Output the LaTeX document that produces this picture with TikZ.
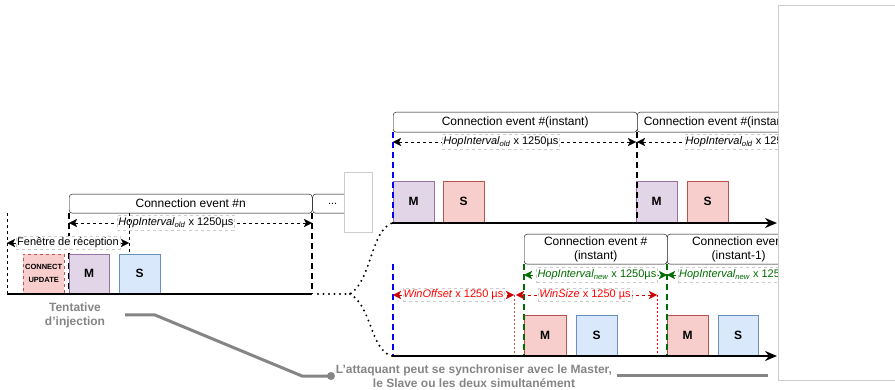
\documentclass[tikz,border=0pt]{standalone}
\usepackage{fontspec}
\setmainfont{Liberation Sans}
\usetikzlibrary{arrows.meta, positioning}
\definecolor{mauvef}{HTML}{E1D5E7}
\definecolor{mauved}{HTML}{9673A6}
\definecolor{rougef}{HTML}{F8CECC}
\definecolor{rouged}{HTML}{B85450}
\definecolor{bleuf}{HTML}{DAE8FC}
\definecolor{bleud}{HTML}{6C8EBF}
\definecolor{vert}{HTML}{006B00}
\definecolor{rougev}{HTML}{FF0000}
\definecolor{rougep}{HTML}{CC0000}
\definecolor{gris}{HTML}{858585}
\newcommand{\hopi}[1]{\textit{HopInterval\textsubscript{#1}}}
\newcommand{\grand}{\fontsize{12}{14}\selectfont}
\newcommand{\moyen}{\fontsize{11}{13}\selectfont}

\begin{document}
\begin{tikzpicture}[
    x=1pt, y=-1pt,
    evt/.style = {rectangle, draw, rounded corners=3pt, anchor=north west, inner sep=0pt, minimum height=20pt, font=\grand, align=center},
    msg/.style = {rectangle, anchor=south west, inner sep=0pt, minimum width=41pt, minimum height=41pt, font=\grand\bfseries},
    etiq/.style = {fill=white, draw=black!20, inner xsep=1pt, inner ysep=2.5pt, font=\moyen},
    duree/.style = {dash pattern=on 3pt off 3pt, {Stealth[length=8pt,width=8pt,inset=2pt]}-{Stealth[length=8pt,width=8pt,inset=2pt]}},
    borne/.style = {line width=2pt, dash pattern=on 6pt off 4pt},
    fin/.style = {dash pattern=on 3pt off 3pt},
    axe/.style = {line width=2pt, -{Stealth[length=12pt,width=10pt]}},
    pointil/.style = {line width=2.2pt, dash pattern=on 0pt off 5.5pt, line cap=round},
    note/.style = {text=gris, font=\grand\bfseries, align=center, inner sep=0pt},
    trait/.style = {draw=gris, line width=3pt},
    cache/.style = {fill=white, draw=black!20}
    ]

  \useasboundingbox (0,0) rectangle (895,390);

  % ligne du haut gauche : connection event #n
  \coordinate (d1) at (7,294);
  \coordinate (f1) at (312,294);
  \coordinate (emb) at (350,294);
  \node[evt, minimum width=243pt, minimum height=19pt] (evn) at (69,194) {Connection event \#n};
  \node[evt, minimum width=40pt, minimum height=19pt, font=\moyen] (suite) [right=0pt of evn] {...};

  \draw[fin] (d1 |- evn.south) -- (d1);
  \draw[borne] (evn.south west) -- (evn.south west |- d1);
  \draw[borne] (evn.south east) -- (evn.south east |- d1);

  \coordinate (h1a) at (69,223);
  \coordinate (h1b) at (312,223);
  \draw[duree] (h1a) -- node[etiq, pos=0.44] {\hopi{old} x 1250µs} (h1b);

  \coordinate (fa) at (7,243);
  \coordinate (fb) at (129,243);
  \node[msg, fill=rougef, draw=rouged, dashed, minimum width=41pt, minimum height=40pt, font=\fontsize{7.5}{13}\selectfont\bfseries, align=center] (cu) at (23,294) {CONNECT\\UPDATE};
  \node[msg, fill=mauvef, draw=mauved, minimum width=40pt, minimum height=40pt] (m1) at (69,294) {M};
  \node[msg, fill=bleuf, draw=bleud, minimum width=41pt, minimum height=40pt] (s1) at (119,294) {S};
  \draw[fin] (fb |- evn.south) -- (fb |- m1.north);
  \draw[duree] (fa) -- node[etiq, inner ysep=1.5pt] {Fenêtre de réception} (fb);
  \draw[line width=2pt] (d1) -- (f1);

  % ligne du haut droite : ancien HopInterval
  \coordinate (d2) at (392,223);
  \coordinate (f2) at (777,223);
  \node[evt, minimum width=244pt] (eva) at (393,112) {Connection event \#(instant)};
  \node[evt, minimum width=160pt] (evb) at (637,112) {Connection event \#(instant)};

  \node[msg, fill=mauvef, draw=mauved, minimum height=42pt] (m2a) at (393,223) {M};
  \node[msg, fill=rougef, draw=rouged, minimum height=42pt] (s2a) at (443,223) {S};
  \node[msg, fill=mauvef, draw=mauved, minimum height=42pt] (m2b) at (636,223) {M};
  \node[msg, fill=rougef, draw=rouged, minimum height=42pt] (s2b) at (687,223) {S};

  \draw[borne, blue] (eva.south west) -- (eva.south west |- d2);
  \draw[borne] (eva.south east) -- (eva.south east |- d2);

  \coordinate (h2a) at (393,142);
  \coordinate (h2b) at (636,142);
  \coordinate (h2c) at (637,142);
  \coordinate (h2d) at (880,142);
  \draw[duree] (h2a) -- node[etiq, pos=0.444] {\hopi{old} x 1250µs} (h2b);
  \draw[duree] (h2c) -- node[etiq, pos=0.437] {\hopi{old} x 1250µs} (h2d);
  \draw[axe] (d2) -- (f2);

  % ligne du bas droite : nouveau HopInterval
  \coordinate (d3) at (392,356);
  \coordinate (o3) at (393,356);
  \coordinate (f3) at (777,356);
  \node[evt, minimum width=143pt, minimum height=30pt] (evc) at (524,234) {Connection event \#\\(instant)};
  \node[evt, minimum width=143pt, minimum height=30pt] (evd) at (667,234) {Connection event\\(instant-1)};

  \node[msg, fill=rougef, draw=rouged, minimum width=42pt] (m3a) at (524,356) {M};
  \node[msg, fill=bleuf, draw=bleud] (s3a) at (576,356) {S};
  \node[msg, fill=rougef, draw=rouged] (m3b) at (667,356) {M};
  \node[msg, fill=bleuf, draw=bleud, minimum width=40pt] (s3b) at (718,356) {S};

  \draw[borne, blue] (o3 |- evc.south) -- (o3);
  \draw[borne, vert] (evc.south west) -- (evc.south west |- d3);
  \draw[borne, vert] (evd.south west) -- (evd.south west |- d3);

  \coordinate (g3a) at (524,275);
  \coordinate (g3b) at (667,275);
  \coordinate (g3c) at (810,275);
  \draw[duree, vert] (g3a) -- node[etiq, pos=0.51, text=vert] {\hopi{new} x 1250µs} (g3b);
  \draw[duree, vert] (g3b) -- node[etiq, pos=0.5, text=vert] {\hopi{new} x 1250µs} (g3c);

  \coordinate (w1) at (393,295);
  \coordinate (w2) at (514,295);
  \coordinate (w3) at (516,295);
  \coordinate (w4) at (657,295);
  \draw[rouged, dash pattern=on 2pt off 2pt] (w2) -- (w2 |- d3);
  \draw[rougev, dash pattern=on 2pt off 2pt] (w4) -- (w4 |- d3);
  \draw[duree, rougep] (w1) -- node[etiq, inner ysep=1.5pt, text=rougev] {\textit{WinOffset} x 1250 µs} (w2);
  \draw[duree, rougep] (w3) -- node[etiq, inner ysep=1.5pt, pos=0.49, text=rougev] {\textit{WinSize} x 1250 µs} (w4);
  \draw[axe] (d3) -- (f3);

  % raccord pointillé
  \draw[pointil] ([xshift=6pt]f1) -- (emb) .. controls (372,280) and (370,232) .. (d2);
  \draw[pointil] (emb) .. controls (372,306) and (370,350) .. (d3);

  % notes
  \node[note] (tent) at (75,315) {Tentative\\d'injection};
  \node[note] (synch) at (474,376.5) {L'attaquant peut se synchroniser avec le Master,\\le Slave ou les deux simultanément};
  \coordinate (t0) at (125,315);
  \coordinate (t3) at (331,376);
  \coordinate (t4) at (617,375);
  \coordinate (t5) at (768,375);
  \draw[trait] (t0) -- (155,315) -- (302,376) -- (t3);
  \fill[gris] (t3) circle (4pt);
  \draw[trait] (t4) -- (t5);

  % caches
  \draw[cache] (344,172) rectangle (372,232);
  \draw[cache] (778,5) rectangle (900,380);
\end{tikzpicture}
\end{document}
